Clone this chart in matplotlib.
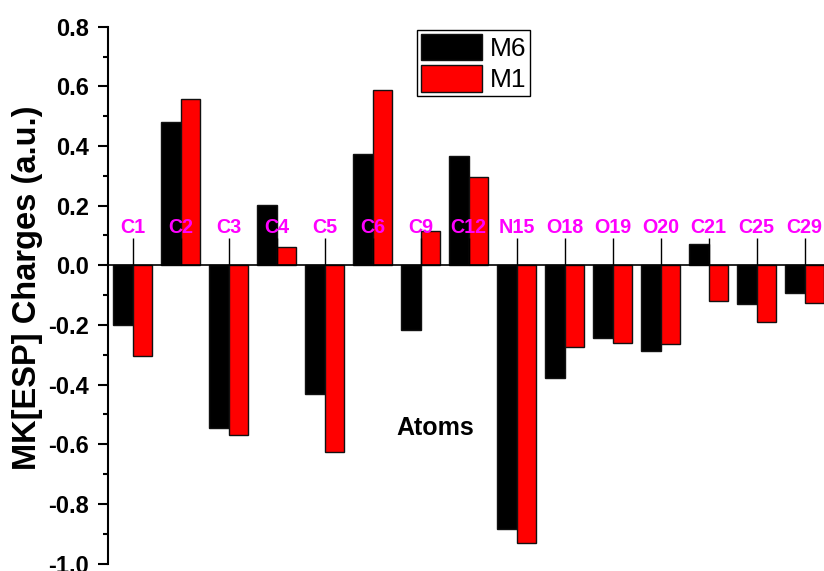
import matplotlib
matplotlib.use("Agg")
import matplotlib.pyplot as plt
import numpy as np
from matplotlib.ticker import MultipleLocator, FormatStrFormatter

plt.rcParams['font.family'] = ['Liberation Sans', 'DejaVu Sans']

# MK[ESP] atomic charges for the two molecules
atoms = ['C1', 'C2', 'C3', 'C4', 'C5', 'C6', 'C9', 'C12',
         'N15', 'O18', 'O19', 'O20', 'C21', 'C25', 'C29']
m6 = [-0.200, 0.480, -0.547, 0.202, -0.430, 0.372, -0.216, 0.367,
      -0.884, -0.377, -0.245, -0.287, 0.072, -0.130, -0.093]
m1 = [-0.304, 0.557, -0.569, 0.060, -0.626, 0.589, 0.116, 0.295,
      -0.931, -0.274, -0.260, -0.265, -0.120, -0.191, -0.126]

W, H = 824, 571
fig = plt.figure(figsize=(W / 100, H / 100), dpi=100)
ax = fig.add_axes([108 / W, 7.4 / H, 720.7 / W, 536.9 / H])

x = np.arange(len(atoms))
bw = 0.41
ax.bar(x - bw / 2, m6, bw, color='black', edgecolor='#111111', linewidth=1.0, label='M6')
ax.bar(x + bw / 2, m1, bw, color='#FF0000', edgecolor='#111111', linewidth=1.0, label='M1')

ax.set_xlim(-0.515, 14.5)
ax.set_ylim(-1.0, 0.8)

# axes: left spine plus a zero line carrying the atom ticks
for s in ['top', 'right']:
    ax.spines[s].set_visible(False)
ax.spines['bottom'].set_position(('data', 0))
ax.spines['bottom'].set_linewidth(1.2)
ax.spines['left'].set_linewidth(1.5)

ax.set_xticks(x)
ax.tick_params(axis='x', direction='in', length=19.5, width=1.0, labelbottom=False)
for xi, name in zip(x, atoms):
    ax.text(xi, 0.107, name, ha='center', va='baseline', color='#FF00FF',
            fontsize=14.2, fontweight='bold', zorder=5)

ax.yaxis.set_major_locator(MultipleLocator(0.2))
ax.yaxis.set_minor_locator(MultipleLocator(0.1))
ax.yaxis.set_major_formatter(FormatStrFormatter('%.1f'))
ax.tick_params(axis='y', which='major', direction='out', length=7.5, width=1.5,
               pad=6, labelsize=17)
ax.tick_params(axis='y', which='minor', direction='out', length=3.75, width=1.5)
for lbl in ax.get_yticklabels():
    lbl.set_fontweight('bold')

fig.text(27.5 / W, 1 - 288 / H, 'MK[ESP] Charges (a.u.)', rotation=90,
         ha='center', va='center', fontsize=23.5, fontweight='bold')

ax.text((435.5 - 108) / 720.7, (563.6 - 435) / 536.9, 'Atoms', transform=ax.transAxes,
        ha='center', va='baseline', fontsize=18, fontweight='bold')

leg = ax.legend(loc='upper left', bbox_to_anchor=(417 / W, 1 - 30 / H),
                bbox_transform=fig.transFigure, fontsize=19, frameon=True,
                fancybox=False, framealpha=1, edgecolor='black',
                handlelength=2.3, handleheight=1.16, labelspacing=0.16,
                borderpad=0.15, handletextpad=0.3, borderaxespad=0)
leg.get_frame().set_linewidth(1.0)

fig.savefig('out.png', dpi=100)
